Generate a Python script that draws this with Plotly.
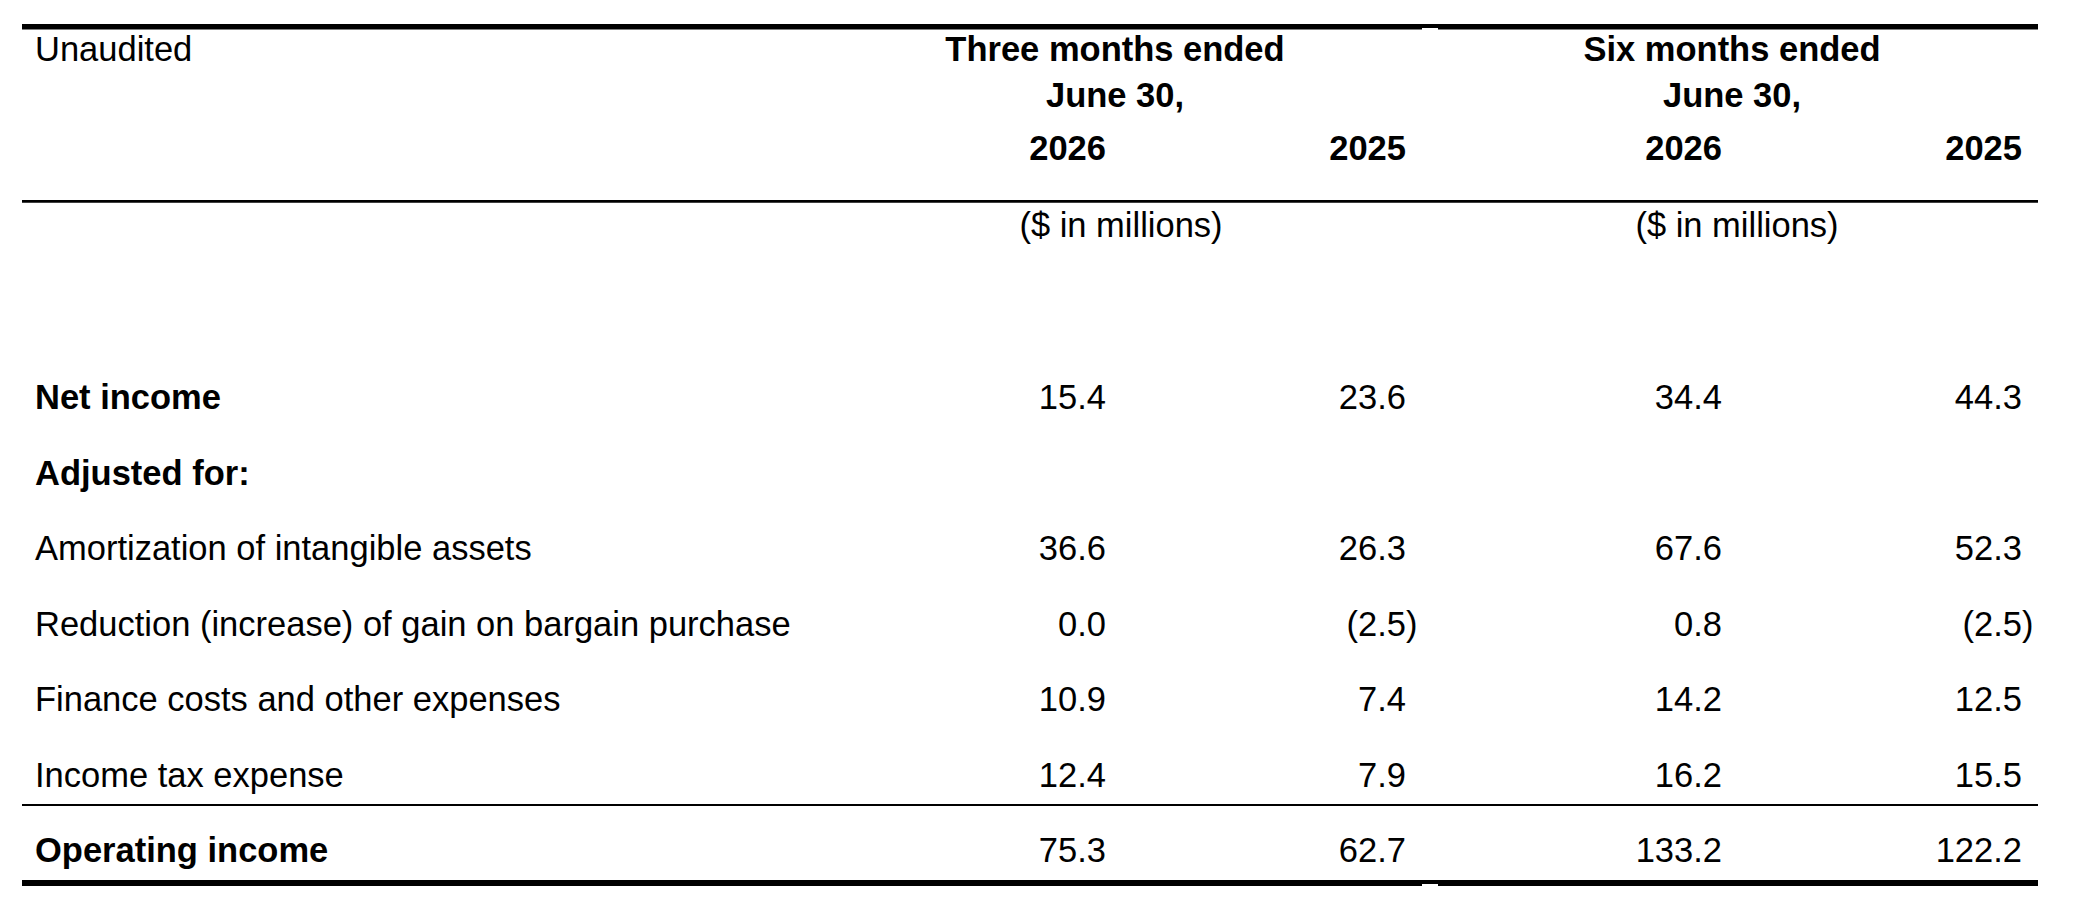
import plotly.graph_objects as go

# %% table content
row_labels = [
    "Net income",
    "Adjusted for:",
    "Amortization of intangible assets",
    "Reduction (increase) of gain on bargain purchase",
    "Finance costs and other expenses",
    "Income tax expense",
    "Operating income",
]
bold_rows = ["Net income", "Adjusted for:", "Operating income"]

three_2026 = [15.4, None, 36.6, 0.0, 10.9, 12.4, 75.3]
three_2025 = [23.6, None, 26.3, -2.5, 7.4, 7.9, 62.7]
six_2026 = [34.4, None, 67.6, 0.8, 14.2, 16.2, 133.2]
six_2025 = [44.3, None, 52.3, -2.5, 12.5, 15.5, 122.2]

periods = ["Three months ended", "Six months ended"]
period_end = "June 30,"
years = ["2026", "2025", "2026", "2025"]
unit_label = "($ in millions)"
corner_label = "Unaudited"

# %% layout (page pixels)
W, H = 2092, 904
PAGE_PAD = 8  # default body margin of the html page
FONT = "Liberation Sans, Arial, Helvetica, sans-serif"
FS = 34.5
LEFT, RIGHT = 22, 2038
LABEL_X = 35
col_right = [1106, 1406, 1722, 2022]
paren_w = 0.333 * FS
group_center = [1115, 1732]
unit_center = [1121, 1737]
dy = 0.11 * FS  # text anchor sits a bit below the cap-height centre
y_corner, y_end, y_year, y_unit = 48.5, 95, 148, 225
body_top, pitch = 397, 75.5
row_y = [body_top + pitch * i + dy for i in range(len(row_labels))]

HIDE = "<span style='color:rgba(0,0,0,0)'>)</span>"


def fmt(v):
    if v is None:
        return ""
    if v < 0:
        return f"({abs(v):.1f})"
    return f"{v:.1f}" + HIDE


fig = go.Figure()

font = dict(family=FONT, size=FS, color="black")


def add_text(x, y, text, pos):
    fig.add_trace(
        go.Scatter(
            x=x,
            y=y,
            text=text,
            mode="text",
            textposition=pos,
            textfont=font,
            hoverinfo="skip",
            cliponaxis=False,
        )
    )


# row labels
add_text(
    [LABEL_X] * len(row_labels),
    row_y,
    [f"<b>{r}</b>" if r in bold_rows else r for r in row_labels],
    "middle right",
)

# value columns
for c, col in enumerate([three_2026, three_2025, six_2026, six_2025]):
    idx = [i for i, v in enumerate(col) if v is not None]
    add_text(
        [col_right[c] + paren_w] * len(idx),
        [row_y[i] for i in idx],
        [fmt(col[i]) for i in idx],
        "middle left",
    )

# headers
add_text([LABEL_X], [y_corner + dy], [corner_label], "middle right")
add_text(group_center, [y_corner + dy] * 2, [f"<b>{p}</b>" for p in periods], "middle center")
add_text(group_center, [y_end + dy] * 2, [f"<b>{period_end}</b>"] * 2, "middle center")
add_text(col_right, [y_year + dy] * 4, [f"<b>{y}</b>" for y in years], "middle left")
add_text(unit_center, [y_unit + dy] * 2, [unit_label] * 2, "middle center")

# rules: thick top/bottom (with the small notch), thin under header and above total
rules = [
    (LEFT, 1422, 24, 29.5), (1422, 1438, 24, 28), (1438, RIGHT, 24, 29.5),
    (LEFT, RIGHT, 200, 202.7),
    (LEFT, RIGHT, 804, 806),
    (LEFT, 1422, 880, 886), (1422, 1438, 880, 884), (1438, RIGHT, 880, 886),
]
for x0, x1, y0, y1 in rules:
    fig.add_shape(
        type="rect", xref="x", yref="y", x0=x0, x1=x1, y0=y0, y1=y1,
        fillcolor="black", line=dict(width=0), layer="above",
    )

fig.update_layout(
    width=W - PAGE_PAD,
    height=H - PAGE_PAD,
    margin=dict(l=0, r=0, t=0, b=0),
    paper_bgcolor="white",
    plot_bgcolor="white",
    showlegend=False,
    xaxis=dict(range=[PAGE_PAD, W], visible=False, fixedrange=True),
    yaxis=dict(range=[H, PAGE_PAD], visible=False, fixedrange=True),
)

fig.write_html("out.html")
